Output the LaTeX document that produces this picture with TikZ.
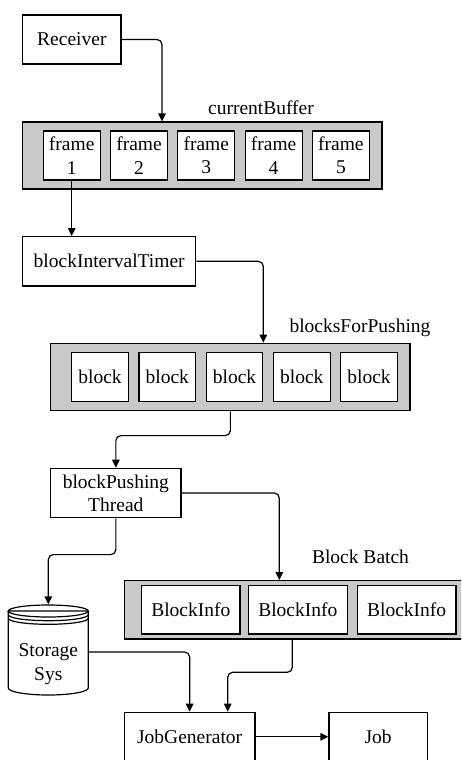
\documentclass[tikz,border=0pt]{standalone}
\usepackage{fontspec}
\setmainfont{Liberation Serif}
\usetikzlibrary{arrows.meta,calc}
\definecolor{bufgray}{RGB}{200,201,203}
% lower (#2>0) or upper (#2<0) half of the storage ellipse at height #1
\newcommand{\halfell}[2]{(8.3,#1) .. controls (8.3,#1+0.552*#2) and (26.2,#1+#2) .. (48.3,#1+#2) .. controls (70.4,#1+#2) and (88.3,#1+0.552*#2) .. (88.3,#1)}
\begin{document}
\begin{tikzpicture}[x=1pt,y=-1pt,line width=1.2pt,
  font=\fontsize{19.5}{23.3}\selectfont,
  box/.style 2 args={draw,fill=white,inner sep=0pt,align=center,
    minimum width=#1,minimum height=#2},
  buf/.style 2 args={draw,fill=bufgray,inner sep=0pt,
    minimum width=#1,minimum height=#2},
  arr/.style={-{Triangle[length=8pt,width=7.5pt]},rounded corners=5pt}]
\useasboundingbox (0,0) rectangle (461,760);
\clip (0,0) rectangle (461,760);

% x positions of vertical connector legs
\coordinate (k1) at (162,0);
\coordinate (k2) at (263.3,0);
\coordinate (k3) at (279.3,0);
\coordinate (k4) at (292.3,0);
\coordinate (k5) at (227.7,0);

% receiver and current buffer
\node[box={98.3pt}{49pt}] (rec) at (71.85,39.5) {Receiver};
\node[buf={359.3pt}{67pt}] (cb) at (202.35,155.5) {};
\foreach \i in {1,...,5}
  \node[box={57pt}{49pt}] (f\i) at ({71.7+67.3*(\i-1)},155.5) {frame\\\i};
\node (cbl) at (261,108) {currentBuffer};

% block interval timer and blocks for pushing
\node[box={173pt}{49.3pt}] (bit) at (109.2,261.3) {blockIntervalTimer};
\node[buf={359.3pt}{67.4pt}] (bfp) at (230.35,377) {};
\foreach \i in {1,...,5}
  \node[box={56.7pt}{49pt}] (b\i) at ({100+67.25*(\i-1)},377.2) {block};
\node (bfpl) at (360,328) {blocksForPushing};

% block pushing thread and block batch
\node[box={130.3pt}{49.4pt}] (bpt) at (115.85,493) {blockPushing\\Thread};
\node[buf={345.7pt}{58.3pt}] (bb) at (297.15,609.85) {};
\node[box={98.3pt}{48.3pt}] (bi1) at (190.85,609.85) {BlockInfo};
\node[box={99pt}{48.3pt}] (bi2) at (297.8,609.85) {BlockInfo};
\node[box={98.7pt}{48.3pt}] (bi3) at (406.65,609.85) {BlockInfo};
\node (bbl) at (360.5,557) {Block Batch};

% storage system cylinder
\node[minimum width=80pt,minimum height=94pt,inner sep=0pt] (st) at (48.3,652) {};
\filldraw[fill=white] (8.3,611) -- (8.3,688) \halfell{688}{7} -- (88.3,611) \halfell{611}{-6} -- cycle;
\draw \halfell{611}{6};
\draw \halfell{614.7}{6};
\draw \halfell{618.3}{6};
\node[align=center,inner sep=0pt] (stl) at (48.3,664) {Storage\\Sys};

% job generation
\node[box={130.7pt}{49pt}] (jg) at (189.65,736.8) {JobGenerator};
\node[box={98.3pt}{49pt}] (job) at (378.15,736.8) {Job};

% connectors
\draw[arr] (rec.east) -| (k1 |- cb.north);
\draw[arr] (f1.south) -- (f1.south |- bit.north);
\draw[arr] (bit.east) -| (k2 |- bfp.north);
\draw[arr] (bfp.south) -- ++(0,24.3) -| (bpt.north);
\draw[arr] (bpt.east) -| (k3 |- bb.north);
\draw[arr] (bpt.south) -- ++(0,36.3) -| (st.north);
\draw[arr] (st.east) -| (jg.north);
\draw[arr] (k4 |- bb.south) -- ++(0,32.7) -| (k5 |- jg.north);
\draw[arr] (jg.east) -- (job.west);
\end{tikzpicture}
\end{document}
